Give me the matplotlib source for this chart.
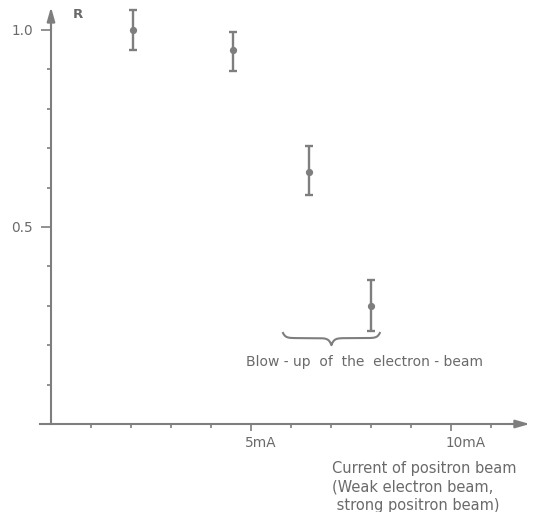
import numpy as np
import matplotlib
matplotlib.use("Agg")
import matplotlib.pyplot as plt

# ---- data ----
current_mA = [2.05, 4.55, 6.45, 8.0]
R_values = [1.0, 0.95, 0.64, 0.30]
err_low = [0.05, 0.055, 0.06, 0.065]
err_high = [0.05, 0.045, 0.065, 0.065]

x_major = [5, 10]
x_major_labels = ["5mA", "10mA"]
y_major = [0.5, 1.0]
y_major_labels = ["0.5", "1.0"]

brace_x0, brace_x1 = 5.8, 8.22
brace_top, brace_mid, brace_tip = 0.231, 0.218, 0.200
annot_text = "Blow - up  of  the  electron - beam"
xlabel_text = "Current of positron beam\n(Weak electron beam,\n strong positron beam)"

GRAY = "#7e7e7e"
TXT = "#6a6a6a"

fig = plt.figure(figsize=(5.35, 5.12), dpi=100)
ax = fig.add_axes([0, 0, 1, 1])
ax.set_xlim(-1.275, (535 - 51) / 40)
ax.set_ylim((424 - 512) / 394, 424 / 394)

for s in ["top", "right"]:
    ax.spines[s].set_visible(False)
for s in ["left", "bottom"]:
    ax.spines[s].set_position(("data", 0))
    ax.spines[s].set_color(GRAY)
    ax.spines[s].set_linewidth(1.5)
ax.spines["left"].set_bounds(0, 1.02)
ax.spines["bottom"].set_bounds(-0.27, 11.7)

# arrows at axis ends
arrow = dict(arrowstyle="-|>,head_length=0.7,head_width=0.2", color=GRAY,
             lw=1.5, mutation_scale=12, shrinkA=0, shrinkB=0)
ax.annotate("", xy=(0, 1.058), xytext=(0, 1.0), arrowprops=arrow)
ax.annotate("", xy=(11.97, 0), xytext=(11.5, 0), arrowprops=arrow)

ax.set_xticks(x_major)
ax.set_xticklabels([])
ax.set_xticks(np.arange(1, 12), minor=True)
ax.set_yticks(y_major)
ax.set_yticklabels(y_major_labels)
ax.set_yticks(np.arange(0.1, 1.0, 0.1), minor=True)
ax.tick_params(axis="x", which="major", direction="out", length=5, width=1.2,
               color=GRAY)
ax.tick_params(axis="x", which="minor", direction="out", length=3, width=1.2,
               color=GRAY)
ax.tick_params(axis="y", which="major", direction="out", length=7, width=1.2,
               color=GRAY, labelcolor=TXT, labelsize=9.8, pad=6)
ax.tick_params(axis="y", which="minor", direction="out", length=3, width=1.2,
               color=GRAY)

for xv, lab in zip(x_major, x_major_labels):
    ax.text(xv - 0.14, -0.048, lab, ha="left", va="center", fontsize=9.8,
            color=TXT)

ax.errorbar(current_mA, R_values, yerr=[err_low, err_high], fmt="o",
            color=GRAY, ms=4.2, elinewidth=1.7, capsize=2.6, capthick=1.7)

# curly brace
d1 = brace_top - brace_mid
d2 = brace_mid - brace_tip
xm = (brace_x0 + brace_x1) / 2
def half(xa, xb, n=150):
    s = np.linspace(0, 1, n)
    xs = xa + (xb - xa) * s
    ys = brace_top - d1 * (1 - np.exp(-s / 0.05)) - d2 * np.exp(-(1 - s) / 0.05)
    return xs, ys
xl, yl = half(brace_x0, xm)
xr, yr = half(brace_x1, xm)
ax.plot(np.r_[xl, xr[::-1]], np.r_[yl, yr[::-1]], color=GRAY, lw=1.5)

ax.text(7.83, 0.157, annot_text, ha="center", va="center",
        fontsize=10, color=TXT)
ax.text(0.68, 1.04, "R", ha="center", va="center", fontsize=9.5, color=TXT,
        fontweight="bold")
ax.text(7.03, -0.093, xlabel_text, ha="left", va="top", fontsize=10.5,
        color=TXT, linespacing=1.3)

fig.savefig("out.png", dpi=100, facecolor="white")
